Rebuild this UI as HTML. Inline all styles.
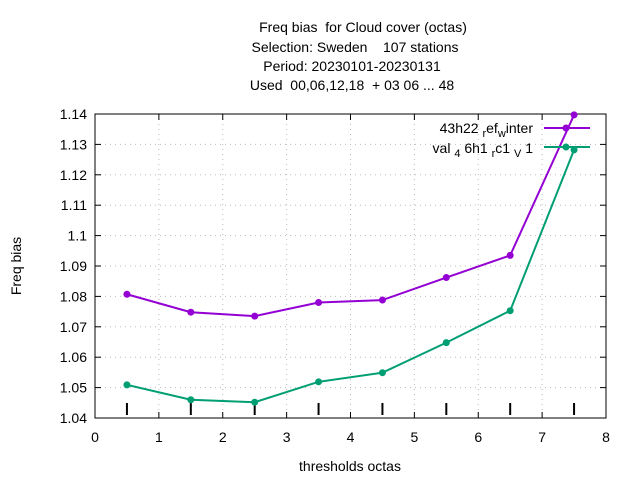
<!DOCTYPE html>
<html><head><meta charset="utf-8"><style>body{margin:0;background:#fff}svg{display:block}text{font-family:"Liberation Sans",sans-serif;font-size:14px;fill:#000;white-space:pre}</style></head>
<body>
<svg id="c" width="640" height="480">
<g>
<text x="363" y="32" text-anchor="middle">Freq bias  for Cloud cover (octas)</text>
<text x="355" y="52" text-anchor="middle">Selection: Sweden    107 stations</text>
<text x="352" y="71" text-anchor="middle">Period: 20230101-20230131</text>
<text x="352" y="90" text-anchor="middle">Used  00,06,12,18  + 03 06 ... 48</text>
</g>
<text transform="translate(21,266) rotate(-90)" text-anchor="middle">Freq bias</text>
<text x="350" y="471" text-anchor="middle">thresholds octas</text>
<g id="grid"></g><g id="axes"></g><g id="series"></g>
<g>
<text x="533" y="133" text-anchor="end">43h22 <tspan font-size="11" dy="4">r</tspan><tspan dy="-4">ef</tspan><tspan font-size="11" dy="4">w</tspan><tspan dy="-4">inter</tspan></text>
<line x1="544" y1="128" x2="590" y2="128" stroke="#9400d3" stroke-width="2"/>
<text x="533" y="153" text-anchor="end">val <tspan font-size="11" dy="4">4</tspan><tspan dy="-4"> 6h1 </tspan><tspan font-size="11" dy="4">r</tspan><tspan dy="-4">c1 </tspan><tspan font-size="11" dy="4">V</tspan><tspan dy="-4"> 1</tspan></text>
<line x1="544" y1="147" x2="590" y2="147" stroke="#009e73" stroke-width="2"/>
</g>
</svg>
<script>
const xs=[0.5,1.5,2.5,3.5,4.5,5.5,6.5,7.5];
const purple=[1.0807,1.0748,1.0735,1.0780,1.0788,1.0862,1.0935,1.1397];
const green=[1.0509,1.0460,1.0452,1.0519,1.0549,1.0648,1.0753,1.1282];
const xTicks=[0,1,2,3,4,5,6,7,8];
const yTicks=[1.04,1.05,1.06,1.07,1.08,1.09,1.1,1.11,1.12,1.13,1.14];
const L=95,R=606,T=114,B=418;
const X=v=>L+(v-0)/8*(R-L), Y=v=>B-(v-1.04)/0.10*(B-T);
const ns="http://www.w3.org/2000/svg";
function mk(p,t,a){const e=document.createElementNS(ns,t);for(const k in a)e.setAttribute(k,a[k]);p.appendChild(e);return e;}
const grid=document.getElementById('grid'),axes=document.getElementById('axes'),ser=document.getElementById('series');
yTicks.forEach(v=>{const y=Y(v);
mk(grid,'line',{x1:L,x2:R,y1:y,y2:y,stroke:'#bbb','stroke-dasharray':'1,4'});
mk(axes,'line',{x1:L,x2:L+6,y1:y,y2:y,stroke:'#000'});mk(axes,'line',{x1:R,x2:R-6,y1:y,y2:y,stroke:'#000'});
const t=mk(axes,'text',{x:L-8,y:y+5,'text-anchor':'end'});t.textContent=String(+v.toFixed(2));

});
xTicks.forEach(v=>{const x=X(v);
mk(grid,'line',{x1:x,x2:x,y1:T,y2:B,stroke:'#bbb','stroke-dasharray':'1,4'});
mk(axes,'line',{x1:x,x2:x,y1:B,y2:B-6,stroke:'#000'});mk(axes,'line',{x1:x,x2:x,y1:T,y2:T+6,stroke:'#000'});
const t=mk(axes,'text',{x:x,y:B+24,'text-anchor':'middle'});t.textContent=v;

});
const box=mk(axes,'rect',{x:L,y:T,width:R-L,height:B-T,fill:'none',stroke:'#000'});


xs.forEach(v=>{const m=mk(axes,'line',{x1:X(v),x2:X(v),y1:B-15,y2:B-3,stroke:'#000','stroke-width':2});

});
function series(vals,col,name){
const g=mk(ser,'g',{});


mk(g,'polyline',{points:vals.map((v,i)=>X(xs[i])+','+Y(v)).join(' '),fill:'none',stroke:col,'stroke-width':2});
vals.forEach((v,i)=>{const c=mk(g,'circle',{cx:X(xs[i]),cy:Y(v),r:3.5,fill:col});

});}
series(purple,'#9400d3','series-43h22');
series(green,'#009e73','series-val46h1');
[[566,128,'#9400d3'],[566,147,'#009e73']].forEach(p=>mk(ser,'circle',{cx:p[0],cy:p[1],r:3.5,fill:p[2]}));
</script>
</body></html>
